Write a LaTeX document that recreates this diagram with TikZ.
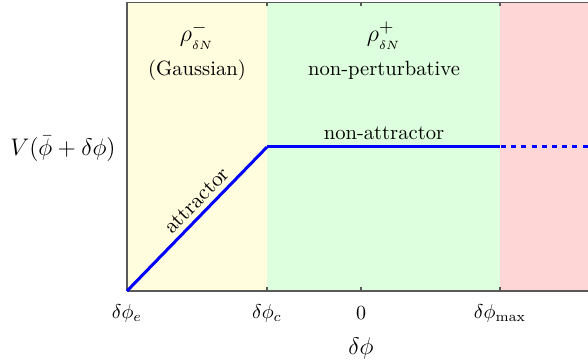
\documentclass[tikz,border=0pt]{standalone}
\usepackage{amsmath}
\begin{document}
\begin{tikzpicture}[x=0.5pt,y=-0.5pt,
  every node/.style={font=\fontsize{10.3}{12.4}\selectfont, inner sep=1pt},
  biglabel/.style={font=\fontsize{12.6}{15}\selectfont},
  axisline/.style={draw=black!65, line width=0.7pt},
  tickmark/.style={draw=black!65, line width=0.6pt},
  curve/.style={draw=blue, line width=1.5pt},
  dashcurve/.style={curve, dash pattern=on 2.5pt off 2.6pt}]
\useasboundingbox (0,0) rectangle (588,363);
% regions
\fill[yellow!13] (127,2.5) rectangle (267,291);
\fill[green!13] (267,2.5) rectangle (500,291);
\fill[red!16] (500,2.5) rectangle (588,291);
% axis
\draw[axisline] (127,291) -- (127,2.5) -- (588,2.5);
\draw[axisline] (127,291) -- (588,291);
\foreach \t in {127,267,361,500}{
  \draw[tickmark] (\t,291) -- (\t,287);
  \draw[tickmark] (\t,2.5) -- (\t,6.5);
}
% coordinates
\coordinate (e) at (127,291);
\coordinate (c) at (267,147);
\coordinate (m) at (500,147);
\coordinate (r) at (588,147);
% curve
\draw[curve] (e) -- node[sloped, above=1.5pt, pos=0.565, font=\fontsize{10.7}{12.8}\selectfont] (attr) {attractor} (c);
\draw[curve] (c) -- (m);
\draw[dashcurve] ([xshift=0.5pt]m) -- (r);
% labels
\node (na) at (384,133) {non-attractor};
\node[biglabel] (rm) at (197,36) {$\rho^{-}_{_{\delta N}}$};
\node (gs) at (197,70) {(Gaussian)};
\node[biglabel] (rp) at (384,36) {$\rho^{+}_{_{\delta N}}$};
\node (np) at (384,70) {non-perturbative};
\node (tle) at (127,313) {$\delta\phi_e$};
\node (tlc) at (267,313) {$\delta\phi_c$};
\node (tl0) at (361,313) {$0$};
\node (tlm) at (500,313) {$\delta\phi_{\max}$};
\node[biglabel] (xl) at (361,348) {$\delta\phi$};
\node[biglabel] (yl) at (63,149) {$V(\bar{\phi}+\delta\phi)$};
\end{tikzpicture}
\end{document}
